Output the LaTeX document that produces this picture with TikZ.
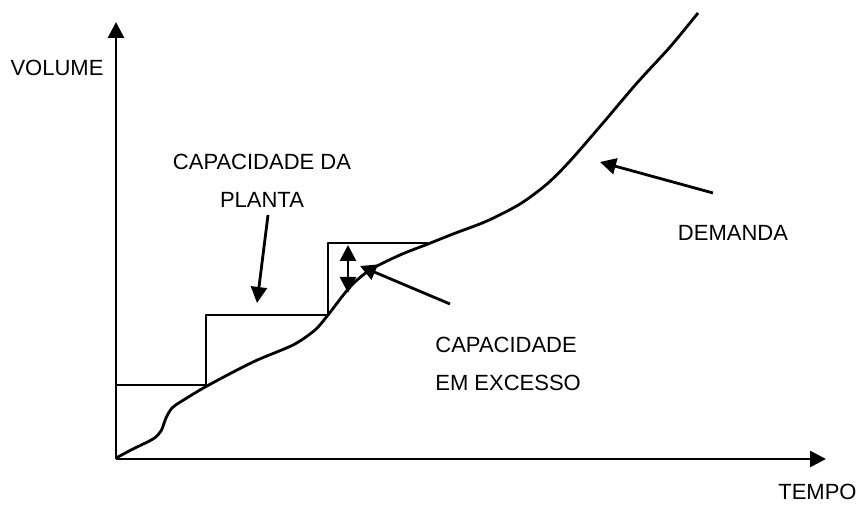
\documentclass[tikz,border=0pt]{standalone}
\usepackage{fontspec}
\setmainfont{Liberation Sans}
\usetikzlibrary{arrows.meta}

\begin{document}
\begin{tikzpicture}
		[x=0.5pt, y=-0.5pt,
		axis/.style ={draw, line width=1.4pt, -{Triangle[width=8pt,length=8pt]}},
		line/.style ={draw, line width=1.4pt, -{Triangle[width=8pt,length=8pt]}},
		curve/.style ={draw, line width=1.4pt, line join=round},
		label/.style ={font=\fontsize{11}{19}\selectfont, inner sep=0pt},
		]
		\useasboundingbox (0,0) rectangle (859,506);

		% axes
		\coordinate (O) at (116,459);
		\coordinate (Ytop) at (116,22);
		\coordinate (Xend) at (826,459);
		\draw[axis] (O) -- (Ytop);
		\draw[axis] (O) -- (Xend);
		\draw (57,68) node[label] (V) {VOLUME};
		\draw (857,492) node[label, anchor=east] (T) {TEMPO};

		% capacity steps
		\coordinate (S0) at (116,385);
		\coordinate (S1) at (206,385);
		\coordinate (S2) at (206,315);
		\coordinate (S3) at (328,315);
		\coordinate (S4) at (328,243);
		\coordinate (S5) at (428,243);
		\draw[curve] (S0) -- (S1) -- (S2) -- (S3) -- (S4) -- (S5);

		% demand
		\draw[curve] plot[smooth] coordinates {(116,458) (133,449) (153,439) (161,431)
			(166,418) (172,408) (182,401) (207,386) (253,362) (293,345) (315,330)
			(328,315) (350,287) (370,270) (400,255) (428,244) (453,234) (487,221)
			(520,204) (547,184) (570,161) (603,123) (637,83) (670,47) (698,13)};

		% labels
		\draw (262,181) node[label, align=center] (P) {CAPACIDADE DA\\PLANTA};
		\draw (435,364) node[label, align=left, anchor=west] (E) {CAPACIDADE\\EM EXCESSO};
		\draw (733,233) node[label] (D) {DEMANDA};

		\coordinate (Pt) at (268,215);
		\coordinate (Ph) at (257,303);
		\coordinate (Et) at (450,304);
		\coordinate (Eh) at (360,266);
		\coordinate (Dt) at (713,193);
		\coordinate (Dh) at (600,162);
		\coordinate (Gt) at (348,245);
		\coordinate (Gb) at (348,293);

		\draw[line] (Pt) -- (Ph);
		\draw[line] (Et) -- (Eh);
		\draw[line] (Dt) -- (Dh);
		\draw[line, {Triangle[width=8pt,length=8pt]}-{Triangle[width=8pt,length=8pt]}] (Gt) -- (Gb);
	\end{tikzpicture}
\end{document}
